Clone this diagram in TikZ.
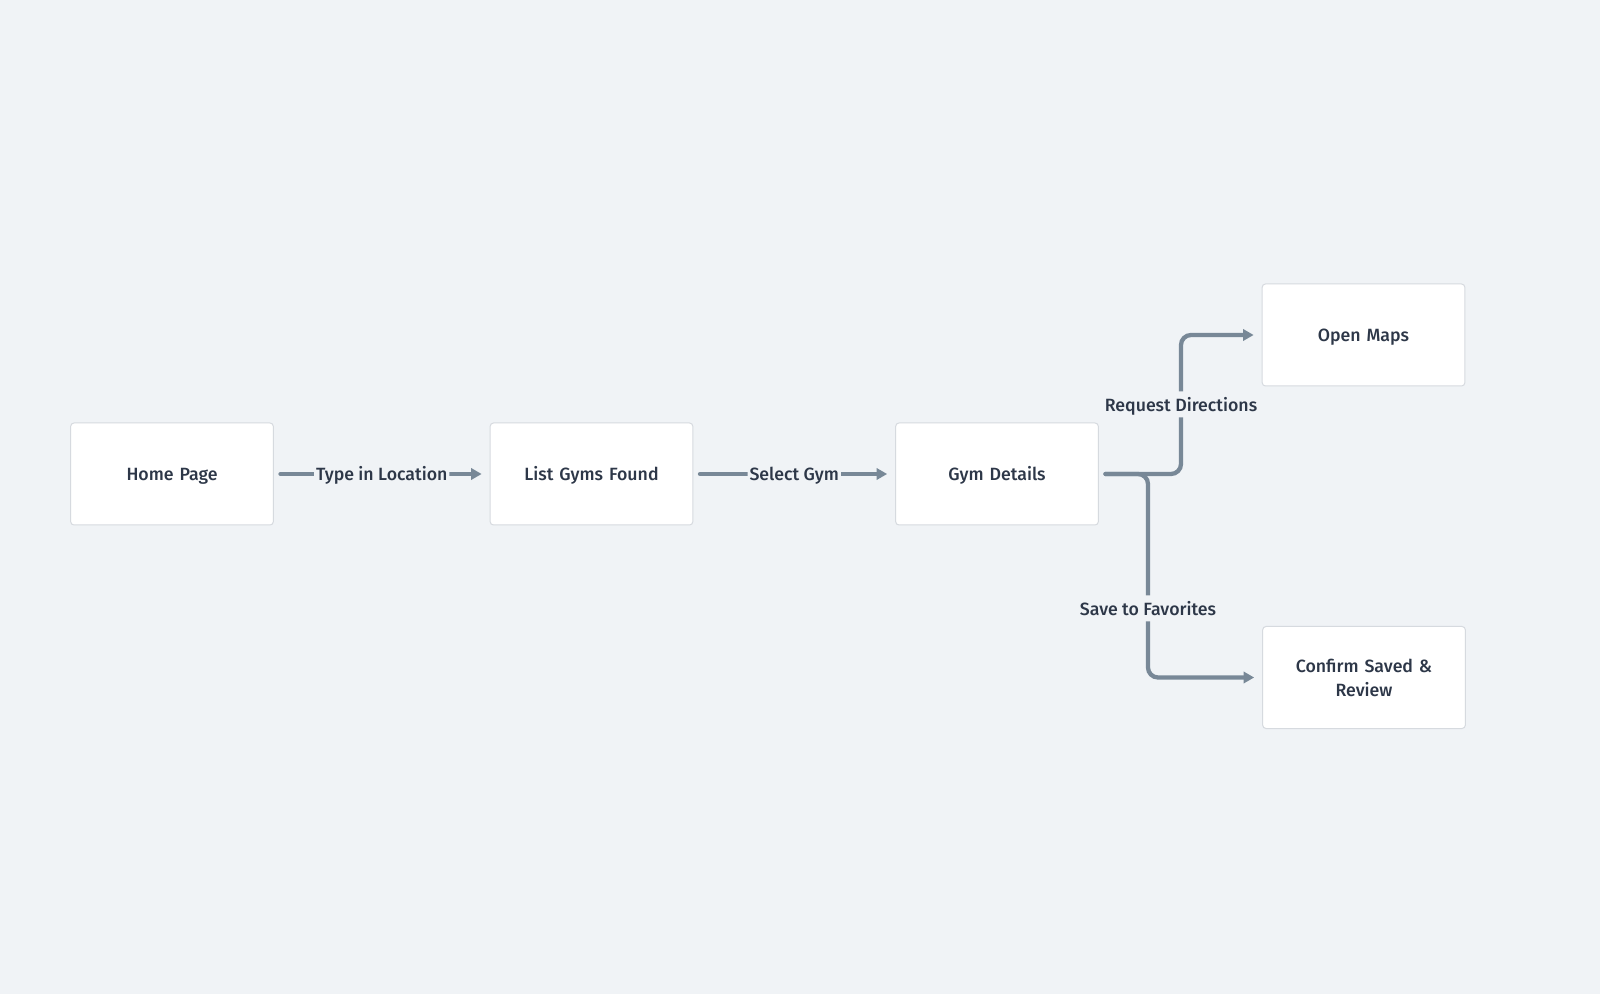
\documentclass[tikz,border=0pt]{standalone}
\usepackage{fontspec}
\setmainfont{Fira Sans}[UprightFont={* Medium}]
\usetikzlibrary{arrows.meta}
\definecolor{canvas}{HTML}{F0F3F6}
\definecolor{edgegray}{HTML}{788897}
\definecolor{boxline}{HTML}{D6DADF}
\definecolor{ink}{HTML}{2D3748}
\tikzset{
  screen/.style={draw=boxline, line width=0.75pt, fill=white, rounded corners=2.5pt,
    minimum width=152pt, minimum height=76.5pt, align=center, text=ink,
    font=\fontsize{13.3pt}{18.2pt}\selectfont, text width=125pt,
    text height=13.5pt, text depth=3pt},
  twoline/.style={text depth=21.2pt},
  flow/.style={draw=edgegray, line width=3.2pt, line cap=round, rounded corners=7.5pt,
    -{Triangle[length=8pt,width=8.5pt]}, shorten <=5pt, shorten >=6pt},
  lbl/.style={fill=canvas, text=ink, inner sep=1.5pt,
    font=\fontsize{13.3pt}{16pt}\selectfont, text height=13.5pt, text depth=3pt}
}
\begin{document}
\begin{tikzpicture}[x=0.75pt, y=-0.75pt]
  \fill[canvas] (0,0) rectangle (1600,994);
  \useasboundingbox (0,0) rectangle (1600,994);

  % screens of the flow
  \node[screen] (home)    at (172,474)    {Home Page};
  \node[screen] (list)    at (591.5,474)  {List Gyms Found};
  \node[screen] (gym)     at (997,474)    {Gym Details};
  \node[screen] (maps)    at (1363.5,335) {Open Maps};
  \node[screen, twoline] (confirm) at (1364,677.5) {Confirm Saved \&\\Review};

  % bend points of the two branches
  \coordinate (dirturn)  at (1181,474);
  \coordinate (saveturn) at (1148,474);

  % main line
  \draw[flow] (home) -- node[lbl] {Type in Location} (list);
  \draw[flow] (list) -- node[lbl] {Select Gym} (gym);

  % branches out of the details screen
  \draw[flow] (gym.east) -- (dirturn) |- node[lbl, pos=0.25] {Request Directions} (maps.west);
  \draw[flow] (gym.east) -- (saveturn) |- node[lbl, pos=0.33] {Save to Favorites} (confirm.west);
\end{tikzpicture}
\end{document}
